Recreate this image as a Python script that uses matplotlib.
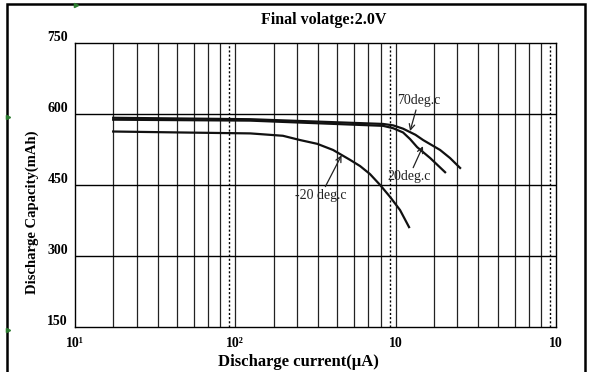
import matplotlib
matplotlib.use("Agg")
import matplotlib.pyplot as plt
import matplotlib.transforms as mtransforms
from matplotlib.patches import Rectangle

# discharge curves: current (uA) vs capacity (mAh)
current_70 = [17.3, 124, 834, 964, 1112, 1330, 1483, 1893, 2183, 2523]
cap_70 = [592, 589, 579, 576, 569, 556, 545, 524, 507, 486]

current_20 = [17.3, 124, 834, 964, 1112, 1230, 1361, 1641, 2034]
cap_20 = [588, 586, 575, 570, 561, 547, 530, 507, 477]

current_m20 = [17.3, 45, 124, 198, 253, 324, 407, 520, 600, 692, 800, 922, 1065, 1212]
cap_m20 = [563, 561, 559, 554, 545, 537, 524, 503, 490, 473, 450, 425, 397, 361]

y_ticks = [150, 300, 450, 600, 750]
x_ticks = [10, 100, 1000, 10000]
x_tick_labels = ["10¹", "10²", "10", "10"]
# the chart's own in-decade grid spacing (not a true log spacing)
grid_mults = [1.73, 2.42, 3.28, 4.32, 5.52, 6.76, 8.05]
dotted_mult = 9.16

serif = ["Liberation Serif", "DejaVu Serif"]
plt.rcParams["font.family"] = serif

fig = plt.figure(figsize=(5.89, 3.72), dpi=100)
W, H = 589, 372
ax = fig.add_axes([75 / W, 1 - 327 / H, 481 / W, 284 / H])
ax.set_xscale("log")
ax.set_xlim(10, 10000)
ax.set_ylim(150, 750)

# grid
for dec in x_ticks[:-1]:
    for m in grid_mults:
        ax.axvline(dec * m, color="#222222", lw=0.9, zorder=1)
    ax.axvline(dec * dotted_mult, color="black", lw=1.0, ls=(0, (1.5, 1.5)), zorder=1)
    if dec > 10:
        ax.axvline(dec, color="#222222", lw=0.9, zorder=1)
for yv in y_ticks[1:-1]:
    ax.axhline(yv, color="black", lw=1.0, zorder=1)

ax.plot(current_70, cap_70, color="#111111", lw=1.6, zorder=3)
ax.plot(current_20, cap_20, color="#111111", lw=1.6, zorder=3)
ax.plot(current_m20, cap_m20, color="#111111", lw=1.6, zorder=3)

arrow = dict(arrowstyle="->", color="#222222", lw=0.9, shrinkA=0, shrinkB=0)
ax.annotate("70deg.c", xy=(1230, 564), xytext=(1390, 628), fontsize=10,
            ha="center", va="center", color="#222222", arrowprops=arrow)
ax.annotate("20deg.c", xy=(1480, 532), xytext=(1210, 467), fontsize=10,
            ha="center", va="center", color="#222222", arrowprops=arrow)
ax.annotate("-20 deg.c", xy=(460, 513), xytext=(340, 427), fontsize=10,
            ha="center", va="center", color="#222222", arrowprops=arrow)

ax.set_xticks(x_ticks)
ax.set_xticklabels(x_tick_labels, fontweight="bold", fontsize=10)
ax.xaxis.set_minor_locator(matplotlib.ticker.NullLocator())
ax.set_yticks(y_ticks)
ax.set_yticklabels([str(v) for v in y_ticks], fontweight="bold", fontsize=10)
ax.tick_params(axis="x", length=0, pad=7)
ax.tick_params(axis="y", length=0, pad=5)
shift = mtransforms.ScaledTranslation(0, 0.07, fig.dpi_scale_trans)
for lab in ax.get_yticklabels():
    lab.set_transform(lab.get_transform() + shift)

for sp in ax.spines.values():
    sp.set_linewidth(1.0)
    sp.set_color("black")

fig.text(324 / W, 1 - 20 / H, "Final volatge:2.0V", ha="center", va="center",
         fontsize=11.5, fontweight="bold")
fig.text(298 / W, 1 - 362 / H, "Discharge current(μA)", ha="center", va="center",
         fontsize=12, fontweight="bold")
fig.text(32 / W, 1 - 212 / H, "Discharge Capacity(mAh)", ha="center", va="center",
         rotation=90, fontsize=10.5, fontweight="bold")

# outer frame
fig.patches.append(Rectangle((7 / W, -0.05), 578 / W, 1.05 - 4 / H,
                             transform=fig.transFigure, fill=False,
                             edgecolor="black", lw=1.8))
# small green marks at the frame
for px, py in [(76, 5), (8, 117), (8, 330)]:
    fig.lines.append(plt.Line2D([px / W], [1 - py / H], transform=fig.transFigure,
                                marker=">", ms=3, color="#2e7d32", lw=0))

fig.savefig("out.png", dpi=100)
